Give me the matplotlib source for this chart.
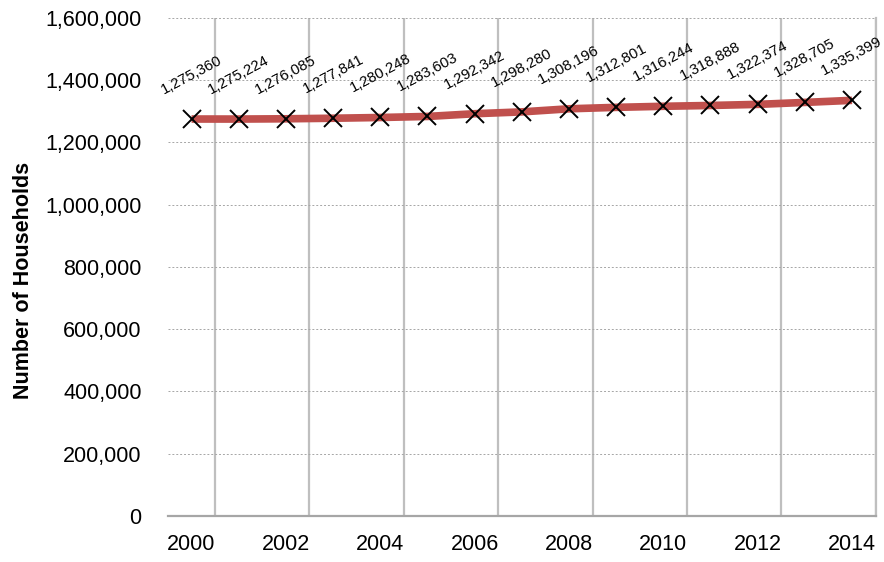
import matplotlib
matplotlib.use('Agg')
import matplotlib.pyplot as plt
from matplotlib.ticker import FuncFormatter, MultipleLocator

# data
years = [2000, 2001, 2002, 2003, 2004, 2005, 2006, 2007,
         2008, 2009, 2010, 2011, 2012, 2013, 2014]
households = [1275360, 1275224, 1276085, 1277841, 1280248, 1283603, 1292342, 1298280,
              1308196, 1312801, 1316244, 1318888, 1322374, 1328705, 1335399]
tick_years = years[::2]

plt.rcParams['font.family'] = ['Liberation Sans', 'DejaVu Sans']

fig = plt.figure(figsize=(8.84, 5.62), dpi=100)
ax = fig.add_axes([0.190, 0.082, 0.8005, 0.886])

x = list(range(len(years)))
ax.plot(x, households, color='#C0504D', linewidth=5.5, solid_capstyle='butt', zorder=3)
ax.plot(x, households, linestyle='none', marker='x', markersize=12.5, markeredgewidth=1.4,
        color='black', zorder=4)

# rotated value labels above each point
for xi, v in zip(x, households):
    ax.annotate(f'{v:,}', (xi, v), xytext=(0, 16), textcoords='offset points',
                ha='center', va='bottom', rotation=28, fontsize=10.8)

ax.set_xlim(-0.5, len(years) - 0.5)
ax.set_ylim(0, 1600000)
ax.yaxis.set_major_locator(MultipleLocator(200000))
ax.yaxis.set_major_formatter(FuncFormatter(lambda v, p: f'{int(v):,}'))

ax.set_xticks([years.index(y) for y in tick_years])
ax.set_xticklabels([str(y) for y in tick_years])
ax.set_xticks([i + 0.5 for i in range(0, len(years), 2)], minor=True)
ax.tick_params(axis='x', which='both', length=0, labelsize=15.5, pad=13)
ax.tick_params(axis='y', length=0, labelsize=15.5, pad=19)

ax.grid(axis='y', which='major', color='#a6a6a6', linestyle=(0, (2, 2)), linewidth=0.7)
ax.grid(axis='x', which='minor', color='#bfbfbf', linestyle='-', linewidth=1.6)
ax.set_axisbelow(True)

for s in ['top', 'left']:
    ax.spines[s].set_visible(False)
ax.spines['right'].set_color('#bfbfbf')
ax.spines['right'].set_linewidth(1.6)
ax.spines['bottom'].set_color('#a6a6a6')
ax.spines['bottom'].set_linewidth(1.6)

ax.set_ylabel('Number of Households', fontsize=15.5, fontweight='bold')
ax.yaxis.set_label_coords(-0.19, 0.472)

fig.savefig('out.png', dpi=100)
